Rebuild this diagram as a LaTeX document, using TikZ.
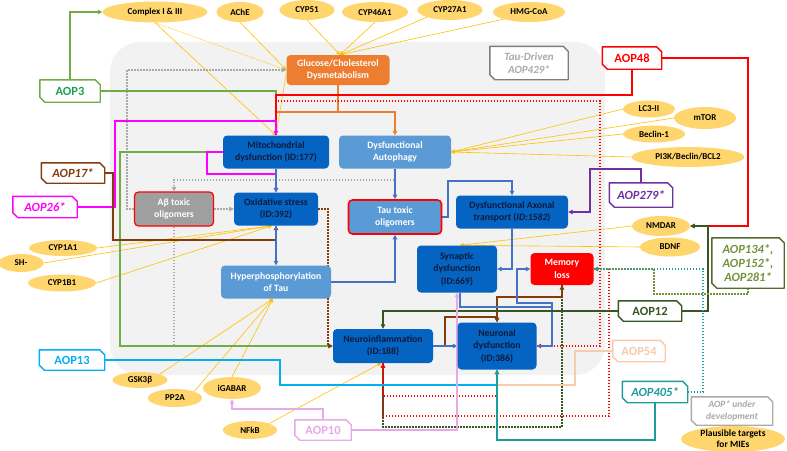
\documentclass[tikz,border=0pt]{standalone}
\usepackage{fontspec}
\setmainfont{Carlito}
\usetikzlibrary{shapes.geometric,arrows.meta,calc}
\definecolor{bgg}{RGB}{242,242,242}
\definecolor{dblue}{RGB}{5,99,193}
\definecolor{lblue}{RGB}{91,155,213}
\definecolor{navy}{RGB}{13,27,62}
\definecolor{ellf}{RGB}{255,213,110}
\definecolor{ylw}{RGB}{255,192,0}
\definecolor{lineblue}{RGB}{68,114,196}
\definecolor{orng}{RGB}{237,125,49}
\definecolor{grn}{RGB}{112,173,71}
\definecolor{grntxt}{RGB}{30,160,80}
\definecolor{brn}{RGB}{132,60,12}
\definecolor{mag}{RGB}{255,0,255}
\definecolor{purp}{RGB}{112,48,160}
\definecolor{olv}{RGB}{85,105,45}
\definecolor{olvtxt}{RGB}{118,146,60}
\definecolor{dgrn}{RGB}{55,86,35}
\definecolor{peach}{RGB}{248,203,173}
\definecolor{teal2}{RGB}{30,155,155}
\definecolor{sky}{RGB}{0,176,240}
\definecolor{pink2}{RGB}{230,170,230}
\definecolor{gry}{RGB}{170,170,170}
\definecolor{dgry}{RGB}{125,125,125}
\pgfdeclarelayer{back}
\pgfdeclarelayer{lines}
\pgfsetlayers{back,lines,main}
\newcommand\aopframe[2]{\filldraw[fill=white, draw=#2, line width=1.4pt, line join=round] (#1.north west) -- ([xshift=-5pt]#1.north east) -- ([yshift=-5pt]#1.north east) -- (#1.south east) -- ([xshift=5pt]#1.south west) -- ([yshift=5pt]#1.south west) -- cycle;}
\begin{document}
\begin{tikzpicture}[x=1pt,y=-1pt,
  nbox/.style={rounded corners=4pt, align=center, inner sep=1pt, font=\bfseries\fontsize{9.7}{12.5}\selectfont},
  dbox/.style={nbox, fill=dblue, text=navy},
  lbox/.style={nbox, fill=lblue, text=white},
  ellnode/.style={ellipse, fill=ellf, inner sep=0pt, align=center, font=\bfseries\fontsize{9}{10}\selectfont},
  aopbox/.style={rectangle, inner sep=1pt, align=center, font=\bfseries\fontsize{12.5}{14}\selectfont},
  arrw/.style={-{Triangle[length=4.5pt,width=4.5pt]}},
  yarr/.style={draw=ylw, line width=0.6pt, -{Triangle[length=3.5pt,width=3.5pt]}},
  dotline/.style={dash pattern=on 1.5pt off 1.5pt},
  cgreen/.style={draw=grn, line width=1.2pt},
  cred/.style={draw=red, line width=1.2pt},
  cmag/.style={draw=mag, line width=1.2pt},
  cbrown/.style={draw=brn, line width=1.2pt},
  cblue/.style={draw=lineblue, line width=1.1pt},
  corange/.style={draw=orng, line width=1.1pt},
  cgray/.style={draw=gry, line width=1.2pt},
  cpurp/.style={draw=purp, line width=1.2pt},
  cdgreen/.style={draw=dgrn, line width=1.2pt},
  colive/.style={draw=olvtxt, line width=1.2pt},
  cteal/.style={draw=teal2, line width=1.2pt},
  csky/.style={draw=sky, line width=1.2pt},
  cpeach/.style={draw=peach, line width=1.2pt},
  cpink/.style={draw=pink2, line width=1.2pt}
]
\useasboundingbox (0,0) rectangle (787,450);
\begin{pgfonlayer}{back}
\fill[bgg, rounded corners=30pt] (110,42) rectangle (605,375);
\end{pgfonlayer}

% ellipses
\node[ellnode, minimum width=105pt, minimum height=21pt] (c13) at (155,12) {Complex I \& III};
\node[ellnode, minimum width=47pt, minimum height=20pt] (ache) at (240,12) {AChE};
\node[ellnode, minimum width=55pt, minimum height=20pt] (cyp51) at (307,10) {CYP51};
\node[ellnode, minimum width=66pt, minimum height=20pt] (cyp46) at (375,12) {CYP46A1};
\node[ellnode, minimum width=65pt, minimum height=20pt] (cyp27) at (450,10) {CYP27A1};
\node[ellnode, minimum width=72pt, minimum height=20pt] (hmg) at (529,12) {HMG-CoA};
\node[ellnode, minimum width=52pt, minimum height=17pt] (lc3) at (649,109) {LC3-II};
\node[ellnode, minimum width=62pt, minimum height=22pt] (mtor) at (705,118) {mTOR};
\node[ellnode, minimum width=62pt, minimum height=17pt] (beclin) at (654,134) {Beclin-1};
\node[ellnode, minimum width=113pt, minimum height=20pt] (pi3k) at (688,157) {PI3K/Beclin/BCL2};
\node[ellnode, minimum width=58pt, minimum height=20pt] (nmdar) at (661,226) {NMDAR};
\node[ellnode, minimum width=60pt, minimum height=19pt] (bdnf) at (670,247) {BDNF};
\node[ellnode, minimum width=68pt, minimum height=16pt] (cyp1a1) at (63,248) {CYP1A1};
\node[ellnode, minimum width=45pt, minimum height=18pt] (sh) at (21,263) {SH-};
\node[ellnode, minimum width=68pt, minimum height=17pt] (cyp1b1) at (62,283) {CYP1B1};
\node[ellnode, minimum width=55pt, minimum height=16pt] (gsk) at (140,380) {GSK3β};
\node[ellnode, minimum width=54pt, minimum height=18pt] (pp2a) at (175,398) {PP2A};
\node[ellnode, minimum width=58pt, minimum height=22pt] (igabar) at (232,388) {iGABAR};
\node[ellnode, minimum width=54pt, minimum height=18pt] (nfkb) at (250,430) {NFkB};
\node[ellnode, minimum width=104pt, minimum height=26pt, font=\bfseries\fontsize{9.5}{11}\selectfont] (plaus) at (733,439) {Plausible targets\\for MIEs};

% boxes
\node[nbox, fill=orng, text=white, minimum width=103pt, minimum height=30pt] (glu) at (338,70) {Glucose/Cholesterol\\Dysmetabolism};
\node[dbox, minimum width=106pt, minimum height=33pt] (mito) at (276,152) {Mitochondrial\\dysfunction (ID:177)};
\node[lbox, minimum width=112pt, minimum height=33pt] (auto) at (395,152) {Dysfunctional\\Autophagy};
\node[nbox, fill=gray!75, text=white, draw=red, line width=1.2pt, minimum width=79pt, minimum height=34pt] (abeta) at (174,209) {Aβ toxic\\oligomers};
\node[dbox, minimum width=84pt, minimum height=33pt] (ox) at (276,209) {Oxidative stress\\(ID:392)};
\node[lbox, draw=red, line width=1.6pt, minimum width=93pt, minimum height=34pt] (tauol) at (395,217) {Tau toxic\\oligomers};
\node[dbox, minimum width=112pt, minimum height=33pt] (axon) at (512,212) {Dysfunctional Axonal\\transport (\textit{ID:1582})};
\node[lbox, minimum width=110pt, minimum height=33pt] (hyper) at (276,282) {Hyperphosphorylation\\of Tau};
\node[dbox, minimum width=80pt, minimum height=47pt] (syn) at (457,269) {Synaptic\\dysfunction\\(ID:669)};
\node[nbox, fill=red, text=white, minimum width=63pt, minimum height=32pt] (mem) at (562,269) {Memory\\loss};
\node[dbox, minimum width=100pt, minimum height=34pt] (neuinf) at (383,346) {Neuroinflammation\\(ID:188)};
\node[dbox, minimum width=79pt, minimum height=47pt] (neudys) at (497,346) {Neuronal\\dysfunction\\(ID:386)};

% AOP labels
\node[aopbox, text=grntxt, minimum width=60pt, minimum height=22pt] (aop3) at (70,91) {AOP3};
\node[aopbox, text=red, minimum width=59pt, minimum height=22pt] (aop48) at (632,58) {AOP48};
\node[aopbox, text=gry, minimum width=78pt, minimum height=33pt, font=\bfseries\itshape\fontsize{11}{13}\selectfont] (tau429) at (529,63) {Tau-Driven\\AOP429*};
\node[aopbox, text=brn, minimum width=63pt, minimum height=20pt, font=\bfseries\itshape\fontsize{12.5}{14}\selectfont] (aop17) at (73,173) {AOP17*};
\node[aopbox, text=mag, minimum width=64pt, minimum height=21pt, font=\bfseries\itshape\fontsize{12.5}{14}\selectfont] (aop26) at (45,207) {AOP26*};
\node[aopbox, text=purp, minimum width=63pt, minimum height=24pt, font=\bfseries\itshape\fontsize{12.5}{14}\selectfont] (aop279) at (641,195) {AOP279*};
\node[aopbox, text=olvtxt, minimum width=72pt, minimum height=50pt, font=\bfseries\itshape\fontsize{12.5}{14}\selectfont] (aop134) at (748,263) {AOP134*,\\AOP152*,\\AOP281*};
\node[aopbox, text=dgrn, minimum width=63pt, minimum height=20pt] (aop12) at (650,311) {AOP12};
\node[aopbox, text=peach, minimum width=52pt, minimum height=21pt] (aop54) at (639,351) {AOP54};
\node[aopbox, text=teal2, minimum width=65pt, minimum height=21pt, font=\bfseries\itshape\fontsize{12.5}{14}\selectfont] (aop405) at (655,392) {AOP405*};
\node[aopbox, text=gry, minimum width=81pt, minimum height=28pt, font=\bfseries\itshape\fontsize{9.5}{12}\selectfont] (aopdev) at (732,411) {AOP* under\\development};
\node[aopbox, text=sky, minimum width=65pt, minimum height=20pt] (aop13) at (72,360) {AOP13};
\node[aopbox, text=pink2, minimum width=56pt, minimum height=20pt] (aop10) at (323,430) {AOP10};

\begin{pgfonlayer}{lines}
% yellow
\draw[yarr, dash pattern=on 1pt off 1pt] (c13.south) -- (glu.west);
\draw[yarr] (c13.south) -- (mito.north);
\draw[yarr] (ache.south) -- (glu.west);
\draw[draw=ylw, line width=0.6pt] ([yshift=-3pt]glu.west) -- (mito.north);
\draw[yarr] (cyp51.south) -- ([xshift=2pt]glu.north);
\draw[yarr] (cyp46.south) -- ([xshift=2pt]glu.north);
\draw[yarr] (cyp27.south west) -- ([xshift=2pt]glu.north);
\draw[yarr] (hmg.south west) -- ([xshift=2pt]glu.north);
\draw[yarr] (lc3.west) -- (auto.east);
\draw[yarr] (mtor.west) -- (auto.east);
\draw[yarr] (beclin.west) -- (auto.east);
\draw[yarr] (pi3k.west) -- (auto.east);
\draw[yarr] (nmdar.west) -- ([xshift=3pt]syn.north);
\draw[yarr] (bdnf.west) -- ([xshift=3pt]syn.north);
\draw[yarr] (cyp1a1.east) -- ([xshift=-4pt]ox.south);
\draw[yarr] (sh.east) -- ([xshift=-4pt]ox.south);
\draw[yarr] (cyp1b1.east) -- ([xshift=-4pt]ox.south);
\draw[yarr] (gsk.north east) -- ([xshift=-3pt]hyper.south);
\draw[yarr] (pp2a.north east) -- ([xshift=-3pt]hyper.south);
\draw[yarr] (igabar.north) -- ([xshift=-3pt]hyper.south);
\draw[yarr] (nfkb.north east) -- ([xshift=-2pt]neuinf.south);

% gray dotted
\draw[cgray, dotline, arrw] (abeta.west) -| (127,70) -- (glu.west);
\draw[cgray, dotline, arrw] (abeta.east) -- (ox.west);
\draw[cgray, dotline, arrw] (auto.south) |- (174,180) -- (abeta.north);
\draw[cgray, dotline] (abeta.south) -- (174,346);

% AOP3 green
\draw[cgreen, arrw] (aop3.north) |- (c13.west);
\draw[cgreen] (aop3.east) -| (mito.north);
\draw[cgreen, arrw] (mito.west) -| (120,346) -- (neuinf.west);

% orange
\draw[corange, arrw] (glu.south) |- (395,112) -- (auto.north);
\draw[corange] (glu.south) |- (276,112) -- (mito.north);

% AOP48 red
\draw[cred] (aop48.south) |- (276,95) -- (mito.north);
\draw[cred, arrw] (aop48.east) -| (748,226) -- (nmdar.east);
\draw[cdgreen, arrw] (aop12.east) -| (708,226) -- (nmdar.east);

% dotted lower loops
\draw[cdgreen, dotline, arrw] (neuinf.south) |- (562,427) -- (mem.south);
\draw[cred, dotline, arrw] (mito.north) |- (600,101) |- (neudys.east);
\draw[cred, dotline, arrw] (mem.east) -- (609,269) |- (383,416) -- (neuinf.south);
\draw[cred, dotline, arrw] (neudys.south) |- (383,396) -- (neuinf.south);

% magenta
\draw[cmag, arrw] (aop26.east) -| (115,121) -| (mito.north);
\draw[cmag, arrw] (mito.west) -| (207,174) -| (ox.north);

% brown
\draw[cbrown, arrw] (aop17.east) -| (113,240) -| (ox.south);
\draw[cbrown, dotline, arrw] (ox.east) -| (328,346) -- (neuinf.west);
\draw[cbrown, arrw] (neuinf.east) -- (445,346) |- (497,317) -- (neudys.north);
\draw[cbrown, arrw] (mem.south) |- (497,297) -- (neudys.north);

% blue
\draw[cblue, arrw] (mito.south) -- (ox.north);
\draw[cblue, arrw] (ox.south) -- (hyper.north);
\draw[cblue, arrw] (auto.south) -- (tauol.north);
\draw[cblue, arrw] (hyper.east) -| (tauol.south);
\draw[cblue, arrw] (tauol.east) -| (448,181) -| (axon.north);
\draw[cblue, arrw] (axon.south) |- (syn.east);
\draw[cblue, arrw] (neudys.east) -| (552,303) -| (517,269) -- (mem.west);
\draw[cblue] (neudys.east) -| (552,307) -| ([xshift=3pt]syn.south);
\draw[cblue, arrw] (neuinf.east) -- (neudys.west);

% purple
\draw[cpurp, arrw] (aop279.north) |- (590,169) |- (axon.east);

% dark green
\draw[cdgreen, arrw] (aop12.west) -| (neuinf.north);

% olive and teal dotted
\draw[colive, dotline, arrw] (aop134.south) |- (654,294) |- (mem.east);
\draw[cteal, dotline, arrw] (aop405.east) -| (703,269) -- (mem.east);

% lower solid
\draw[csky, arrw] (aop13.east) -| (280,385) -| (neudys.south);
\draw[cpeach, arrw] (aop54.west) -| (575,385) -| (neudys.south);
\draw[cteal, arrw] (aop405.south) |- (497,440) -- (neudys.south);
\draw[cpink, arrw] (aop10.east) -| (syn.south);
\draw[cpink, arrw] (aop10.north) |- (232,409) -- (igabar.south);

% AOP frames
\aopframe{aop3}{grn}
\aopframe{aop48}{red}
\aopframe{tau429}{dgry}
\aopframe{aop17}{brn}
\aopframe{aop26}{mag}
\aopframe{aop279}{purp}
\aopframe{aop134}{olv}
\aopframe{aop12}{dgrn}
\aopframe{aop54}{peach}
\aopframe{aop405}{teal2}
\aopframe{aopdev}{gry}
\aopframe{aop13}{sky}
\aopframe{aop10}{pink2}
\end{pgfonlayer}
\end{tikzpicture}
\end{document}
